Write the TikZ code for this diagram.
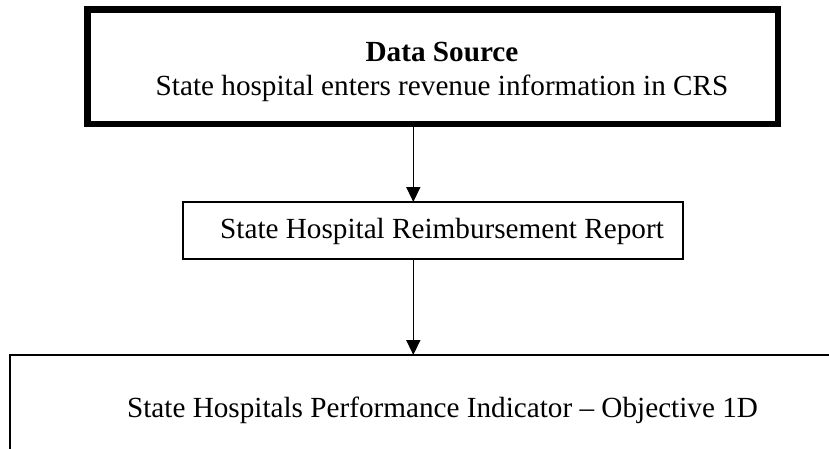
\documentclass[tikz,border=0pt]{standalone}
\usepackage{fontspec}
\setmainfont{Liberation Serif}
\usetikzlibrary{arrows.meta}
\begin{document}
\begin{tikzpicture}[x=1pt,y=-1pt,
  frame/.style={draw, rectangle, inner sep=0pt, outer sep=0pt},
  lbl/.style={anchor=base, inner sep=0pt, font=\fontsize{29.2}{33.6}\selectfont},
  arr/.style={-{Triangle[width=14pt,length=15pt]}, line width=1.5pt}]
\useasboundingbox (0,0) rectangle (829,449);
\clip (0,0) rectangle (829,449);
% top box
\node[frame, line width=6.5pt, minimum width=690.7pt, minimum height=114.3pt] (src) at (432.65,66.85) {};
\node[lbl, font=\fontsize{29.2}{33.6}\selectfont\bfseries] (srct) at (442,62) {Data Source};
\node[lbl] (srcd) at (442,96) {State hospital enters revenue information in CRS};
% middle box
\node[frame, line width=1.6pt, minimum width=500pt, minimum height=56.7pt] (mid) at (432.7,230.35) {};
\node[lbl] (midt) at (442,238) {State Hospital Reimbursement Report};
% bottom box (runs past the right and bottom edges)
\node[frame, line width=2pt, minimum width=865pt, minimum height=200pt] (ind) at (442.5,455) {};
\node[lbl] (indt) at (442.5,417) {State Hospitals Performance Indicator – Objective 1D};
% connectors
\coordinate (ax) at (413.3,0);
\draw[arr] (src.south -| ax) -- (mid.north -| ax);
\draw[arr] (mid.south -| ax) -- (ind.north -| ax);
\end{tikzpicture}
\end{document}
